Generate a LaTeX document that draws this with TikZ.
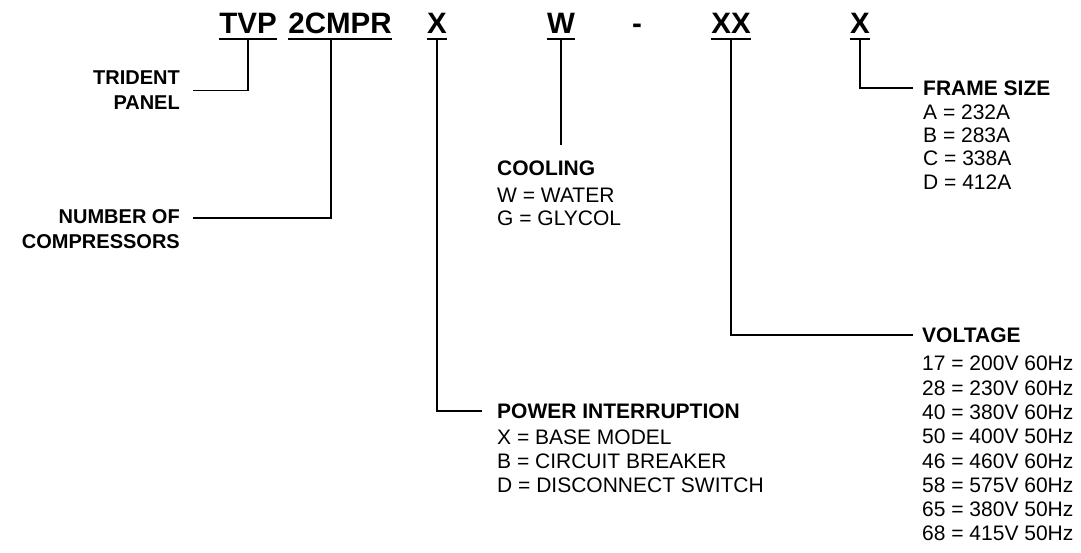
\documentclass[tikz,border=0pt]{standalone}
\usepackage{fontspec}
\setmainfont{Liberation Sans}
\begin{document}
\begin{tikzpicture}[x=1pt,y=-1pt,
  hdr/.style={font=\fontsize{29.5}{30}\selectfont\bfseries, inner sep=0pt, text depth=5.8pt, anchor=base},
  ttl/.style={font=\fontsize{21}{24}\selectfont\bfseries, inner sep=0pt, anchor=west},
  lst/.style={font=\fontsize{21}{#1}\selectfont, align=left, inner sep=0pt, anchor=north west},
  lbl/.style={font=\fontsize{20}{25}\selectfont\bfseries, align=right, inner xsep=13pt, inner ysep=0pt, anchor=north east},
  conn/.style={line width=1.6pt},
  uline/.style={line width=1.7pt}]
\useasboundingbox[fill=white] (0,0) rectangle (1081,552);
% header tokens
\node[hdr] (tvp) at (248,33.3) {TVP};
\node[hdr] (cmpr) at (340,33.3) {2CMPR};
\node[hdr] (px) at (437,33.3) {X};
\node[hdr] (pw) at (561,33.3) {W};
\node[hdr] (dash) at (637,33.3) {-};
\node[hdr] (pxx) at (731,33.3) {XX};
\node[hdr] (pfx) at (860,33.3) {X};
\foreach \n in {tvp,cmpr,px,pw,pxx,pfx}
  \draw[uline] (\n.south west) -- (\n.south east);
% left labels
\node[lbl] (tp) at (193,70.8) {TRIDENT\\PANEL};
\node[lbl] (nc) at (193,209.8) {NUMBER OF\\COMPRESSORS};
% cooling
\node[ttl] (cool) at (497,168) {COOLING};
\node[lst=23] (cooll) at (497,187.5) {W = WATER\\G = GLYCOL};
\coordinate (wend) at (561,145);
% frame size
\node[ttl] (fs) at (923,88) {FRAME SIZE};
\node[lst=23.3] (fsl) at (923,104.5) {A = 232A\\B = 283A\\C = 338A\\D = 412A};
% voltage
\node[ttl] (vt) at (922,335) {VOLTAGE};
\node[lst=24.3] (vtl) at (922,356) {17 = 200V 60Hz\\28 = 230V 60Hz\\40 = 380V 60Hz\\50 = 400V 50Hz\\46 = 460V 60Hz\\58 = 575V 60Hz\\65 = 380V 50Hz\\68 = 415V 50Hz};
% power interruption
\node[ttl] (pi) at (497,411) {POWER INTERRUPTION};
\node[lst=24.3] (pil) at (497,429.2) {X = BASE MODEL\\B = CIRCUIT BREAKER\\D = DISCONNECT SWITCH};
% connectors
\draw[conn] (tvp.south) |- ([yshift=-19.5pt]tp.north east);
\draw[conn] ([xshift=-9pt]cmpr.south) |- ([yshift=-8pt]nc.north east);
\draw[conn] (px.south) |- ([xshift=-15pt]pi.west);
\draw[conn] (pw.south) -- (wend);
\draw[conn] (pxx.south) |- ([xshift=-9pt]vt.west);
\draw[conn] (pfx.south) |- ([xshift=-10pt]fs.west);
\end{tikzpicture}
\end{document}
